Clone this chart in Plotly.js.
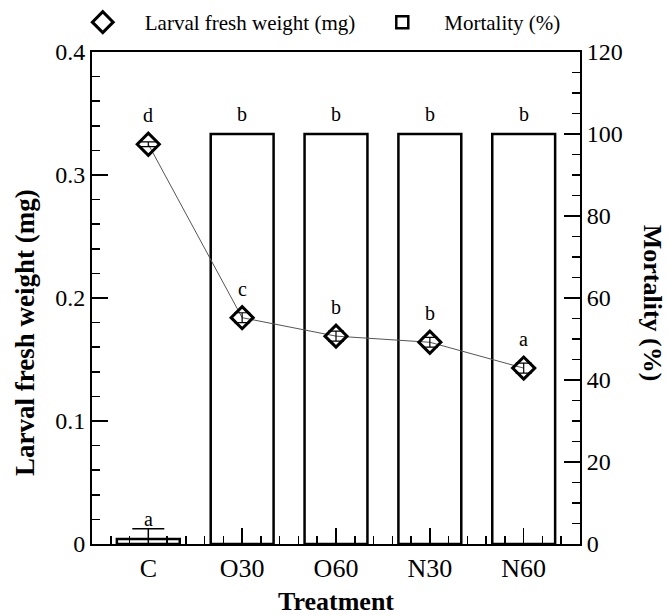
<!DOCTYPE html>
<html>
<head>
<meta charset="utf-8">
<script src="https://cdn.plot.ly/plotly-3.0.1.min.js"></script>
<style>html,body{margin:0;padding:0;background:#fff;}#chart{width:668px;height:615px;}</style>
</head>
<body>
<div id="chart"></div>
<script>
// ---- data ----
var categories = ["C", "O30", "O60", "N30", "N60"];
var weight = [0.325, 0.184, 0.169, 0.164, 0.143];
var weightErr = [0.002, 0.004, 0.004, 0.004, 0.004];
var weightLetters = ["d", "c", "b", "b", "a"];
var mortality = [1.2, 100, 100, 100, 100];
var mortalityErr = [2.5, 0, 0, 0, 0];
var mortalityLetters = ["a", "b", "b", "b", "b"];

var FONT = "Liberation Serif";
var xpos = categories.map(function (c, i) { return i; });

var barTrace = {
  type: "bar",
  name: "Mortality (%)",
  x: xpos,
  y: mortality,
  yaxis: "y",
  width: 0.67,
  marker: { color: "white", line: { color: "black", width: 2.5 } },
  error_y: { type: "data", array: mortalityErr, visible: true, color: "black", thickness: 1.5, width: 16 }
};

var lineTrace = {
  type: "scatter",
  mode: "lines",
  name: "Larval fresh weight (mg)",
  showlegend: false,
  x: xpos,
  y: weight,
  yaxis: "y2",
  line: { color: "#555", width: 1 }
};

var markerTrace = {
  type: "scatter",
  mode: "markers",
  name: "Larval fresh weight (mg)",
  x: xpos,
  y: weight,
  yaxis: "y2",
  marker: { symbol: "diamond-open", size: 17, color: "black", line: { color: "black", width: 3 } },
  error_y: { type: "data", array: weightErr, visible: true, color: "black", thickness: 1.2, width: 8 }
};

var annotations = [];
categories.forEach(function (c, i) {
  annotations.push({ x: i, y: weight[i], xref: "x", yref: "y2", text: weightLetters[i],
    showarrow: false, yshift: 29, font: { family: FONT, size: 20, color: "black" } });
  annotations.push({ x: i, y: mortality[i], xref: "x", yref: "y", text: mortalityLetters[i],
    showarrow: false, yshift: 20, font: { family: FONT, size: 20, color: "black" } });
});
annotations.push({ x: -0.136, y: 0.43, xref: "paper", yref: "paper", xanchor: "center", yanchor: "middle",
  text: "<b>Larval fresh weight (mg)</b>",
  textangle: -90, showarrow: false, font: { family: FONT, size: 27, color: "black" } });
annotations.push({ x: 1.148, y: 0.49, xref: "paper", yref: "paper", xanchor: "center", yanchor: "middle",
  text: "<b>Mortality (%)</b>",
  textangle: 90, showarrow: false, font: { family: FONT, size: 26, color: "black" } });
annotations.push({ x: 0.5, y: -0.117, xref: "paper", yref: "paper", xanchor: "center", yanchor: "middle",
  text: "<b>Treatment</b>",
  showarrow: false, font: { family: FONT, size: 26, color: "black" } });

var layout = {
  width: 668, height: 615,
  margin: { l: 92, r: 88, t: 52, b: 71, autoexpand: false },
  paper_bgcolor: "white", plot_bgcolor: "white",
  font: { family: FONT, color: "black" },
  showlegend: true,
  legend: { orientation: "h", x: -0.064, xanchor: "left", y: 1.06, yanchor: "middle",
    font: { family: FONT, size: 21, color: "black" }, traceorder: "reversed", itemwidth: 74 },
  xaxis: {
    range: [-0.6, 4.6], tickvals: xpos, ticktext: categories,
    showline: true, linecolor: "black", linewidth: 2, mirror: true,
    ticks: "inside", ticklen: 16, tickwidth: 1.5, tickcolor: "black",
    minor: { dtick: 0.2, ticks: "inside", ticklen: 8, tickwidth: 1.5, tickcolor: "black" },
    tickfont: { family: FONT, size: 26, color: "black" },
    showgrid: false, zeroline: false
  },
  yaxis: {
    side: "right", range: [0, 120], dtick: 20,
    showline: true, linecolor: "black", linewidth: 2,
    ticks: "inside", ticklen: 16, tickwidth: 1.5, tickcolor: "black",
    minor: { dtick: 5, ticks: "inside", ticklen: 8, tickwidth: 1.5, tickcolor: "black" },
    tickfont: { family: FONT, size: 24, color: "black" },
    showgrid: false, zeroline: false
  },
  yaxis2: {
    side: "left", overlaying: "y", range: [0, 0.4], dtick: 0.1,
    showline: true, linecolor: "black", linewidth: 2,
    ticks: "inside", ticklen: 16, tickwidth: 1.5, tickcolor: "black",
    minor: { dtick: 0.02, ticks: "inside", ticklen: 8, tickwidth: 1.5, tickcolor: "black" },
    tickfont: { family: FONT, size: 24, color: "black" },
    showgrid: false, zeroline: false
  },
  annotations: annotations
};

Plotly.newPlot("chart", [barTrace, lineTrace, markerTrace], layout, { staticPlot: true, displayModeBar: false });
</script>
</body>
</html>
